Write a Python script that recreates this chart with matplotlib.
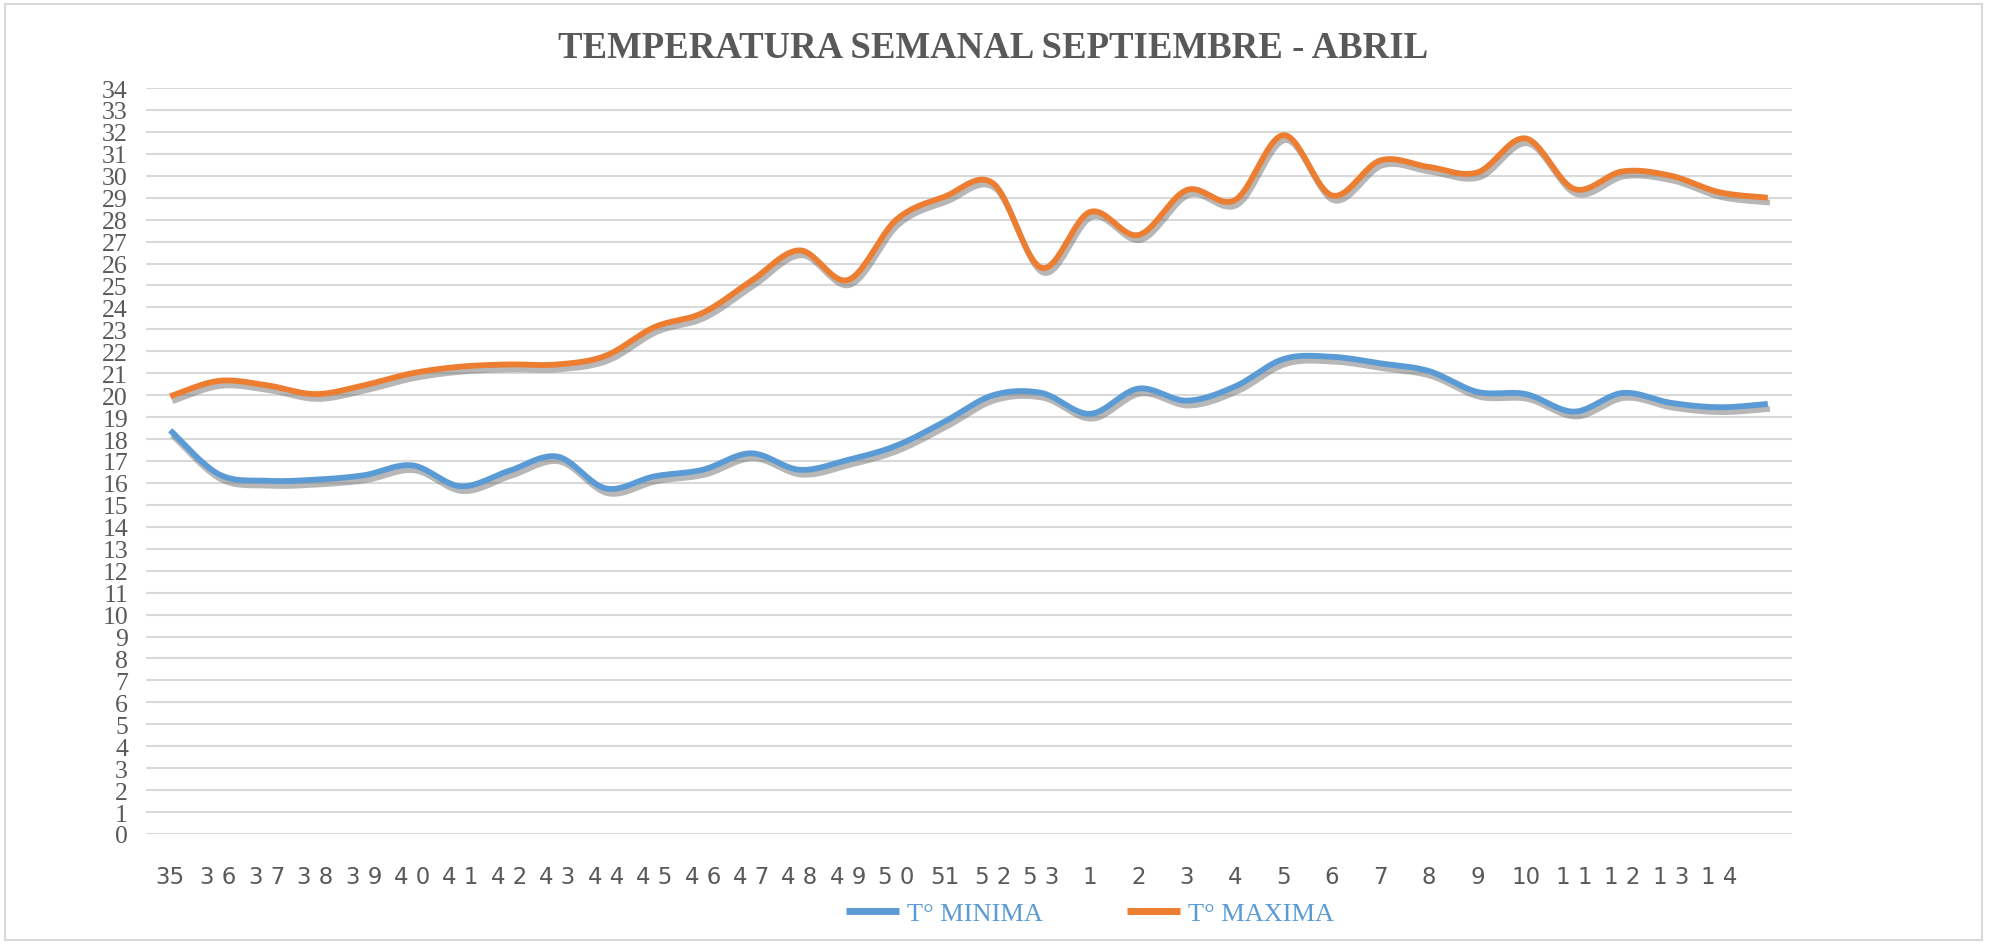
import numpy as np
import matplotlib
matplotlib.use('Agg')
import matplotlib.pyplot as plt
import matplotlib.patheffects as pe
from matplotlib import font_manager
from matplotlib.patches import Rectangle

# Semanas (eje X) y temperaturas
semanas = ['35', '3 6', '3 7', '3 8', '3 9', '4 0', '4 1', '4 2', '4 3', '4 4',
           '4 5', '4 6', '4 7', '4 8', '4 9', '5 0', '51', '5 2', '5 3', '1',
           '2', '3', '4', '5', '6', '7', '8', '9', '10', '1 1', '1 2', '1 3',
           '1 4', '']
t_minima = [18.4, 16.4, 16.1, 16.15, 16.35, 16.8, 15.85, 16.55, 17.2, 15.75,
            16.3, 16.6, 17.35, 16.6, 17.05, 17.7, 18.8, 20.0, 20.1, 19.15,
            20.3, 19.75, 20.4, 21.65, 21.75, 21.45, 21.1, 20.15, 20.05, 19.25,
            20.1, 19.65, 19.45, 19.6]
t_maxima = [19.95, 20.65, 20.45, 20.05, 20.45, 21.0, 21.3, 21.4, 21.4, 21.8,
            23.1, 23.75, 25.2, 26.6, 25.25, 28.0, 29.05, 29.65, 25.8, 28.35,
            27.3, 29.35, 28.9, 31.85, 29.1, 30.7, 30.4, 30.15, 31.7, 29.4,
            30.2, 30.0, 29.25, 29.0]

AZUL = '#5B9BD5'
NARANJA = '#ED7D31'
GRIS = '#595959'


def suavizar(x, y, n=24):
    """Curva suave tipo Excel (Bezier con tangentes Catmull-Rom)."""
    pts = np.column_stack([x, y]).astype(float)
    p = np.vstack([pts[0], pts, pts[-1]])
    t = np.linspace(0, 1, n, endpoint=False)[:, None]
    tramos = []
    for i in range(1, len(p) - 2):
        p0, p1, p2, p3 = p[i - 1], p[i], p[i + 1], p[i + 2]
        c1 = p1 + (p2 - p0) / 6
        c2 = p2 - (p3 - p1) / 6
        tramos.append((1 - t) ** 3 * p1 + 3 * (1 - t) ** 2 * t * c1
                      + 3 * (1 - t) * t ** 2 * c2 + t ** 3 * p2)
    tramos.append(pts[-1:])
    c = np.vstack(tramos)
    return c[:, 0], c[:, 1]


instaladas = {f.name for f in font_manager.fontManager.ttflist}
fuente_x = 'Liberation Sans Narrow' if 'Liberation Sans Narrow' in instaladas else 'DejaVu Sans Condensed'
serif = ['Liberation Serif', 'DejaVu Serif']

fig = plt.figure(figsize=(19.9, 9.45), dpi=100)
ax = fig.add_axes([146 / 1990, 1 - 835 / 945, (1792 - 146) / 1990, (835 - 89) / 945])

x = np.arange(len(semanas))
sombra = [pe.SimpleLineShadow(offset=(1.5, -3.5), shadow_color='#707070', alpha=0.5),
          pe.Normal()]
xs, ys = suavizar(x, t_minima)
ax.plot(xs, ys, color=AZUL, lw=4.2, solid_capstyle='butt', label='T° MINIMA',
        path_effects=sombra, zorder=3)
xs, ys = suavizar(x, t_maxima)
ax.plot(xs, ys, color=NARANJA, lw=4.2, solid_capstyle='butt', label='T° MAXIMA',
        path_effects=sombra, zorder=3)

ax.set_xlim(-0.5, len(semanas) - 0.5)
ax.set_ylim(0, 34)
ax.set_yticks(range(0, 35))
ax.set_xticks(x)
ax.set_xticklabels(semanas, family=fuente_x, fontsize=16.5, color=GRIS)
for lbl in ax.get_yticklabels():
    lbl.set_family(serif)
    lbl.set_fontsize(18.5)
    lbl.set_color(GRIS)
ax.tick_params(axis='y', length=0, pad=13)
ax.tick_params(axis='x', length=0, pad=22)
ax.grid(axis='y', color='#D9D9D9', lw=1.5, zorder=0)
for s in ax.spines.values():
    s.set_visible(False)

fig.text(0.499, 1 - 48 / 945, 'TEMPERATURA SEMANAL SEPTIEMBRE - ABRIL',
         ha='center', va='center', family=serif, fontweight='bold',
         fontsize=26.5, color=GRIS)

leg = fig.legend(loc='center', bbox_to_anchor=(1090 / 1990, 1 - 914 / 945),
                 ncol=2, frameon=False, handlelength=2.0, handletextpad=0.3,
                 columnspacing=3.2, prop={'family': serif, 'size': 19})
for txt in leg.get_texts():
    txt.set_color(AZUL)
for h in leg.get_lines():
    h.set_path_effects([])
    h.set_linewidth(5)

fig.patches.append(Rectangle((5 / 1990, 4 / 945), 1977 / 1990, 936 / 945,
                             transform=fig.transFigure, fill=False,
                             edgecolor='#D9D9D9', lw=1.5))

fig.savefig('out.png', dpi=100, facecolor='white')
